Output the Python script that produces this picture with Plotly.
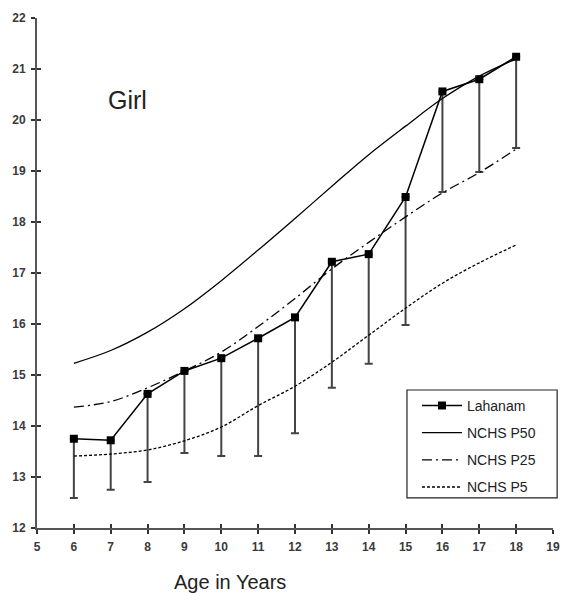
import plotly.graph_objects as go

ages = [6, 7, 8, 9, 10, 11, 12, 13, 14, 15, 16, 17, 18]
lahanam = [13.75, 13.72, 14.63, 15.08, 15.33, 15.72, 16.13, 17.22, 17.37, 18.49, 20.56, 20.8, 21.24]
lahanam_low = [12.59, 12.75, 12.9, 13.47, 13.41, 13.41, 13.86, 14.75, 15.22, 15.98, 18.59, 18.98, 19.45]
p50 = [15.23, 15.48, 15.84, 16.3, 16.85, 17.45, 18.07, 18.7, 19.32, 19.88, 20.42, 20.86, 21.2]
p25 = [14.37, 14.48, 14.75, 15.08, 15.45, 15.95, 16.5, 17.08, 17.6, 18.1, 18.57, 18.97, 19.43]
p5 = [13.41, 13.45, 13.53, 13.71, 13.98, 14.4, 14.78, 15.25, 15.78, 16.31, 16.8, 17.2, 17.55]
x_ticks = list(range(5, 20))
y_ticks = list(range(12, 23))

err_minus = [v - lo for v, lo in zip(lahanam, lahanam_low)]
err_plus = [0] * len(lahanam)

FONT = "Liberation Sans, Arial, sans-serif"

fig = go.Figure()
fig.add_trace(go.Scatter(
    x=ages, y=lahanam, name="Lahanam", mode="lines+markers",
    line=dict(color="black", width=1.5),
    marker=dict(symbol="square", size=8, color="black"),
    error_y=dict(type="data", symmetric=False, array=err_plus, arrayminus=err_minus,
                 color="#444", thickness=2, width=4),
    legendgroup="a",
))
fig.add_trace(go.Scatter(
    x=ages, y=p50, name="NCHS P50", mode="lines", line_shape="spline",
    line=dict(color="black", width=1.3), legendgroup="b",
))
fig.add_trace(go.Scatter(
    x=ages, y=p25, name="NCHS P25", mode="lines", line_shape="spline",
    line=dict(color="black", width=1.3, dash="10px,4px,2px,4px"), legendgroup="c",
))
fig.add_trace(go.Scatter(
    x=ages, y=p5, name="NCHS P5", mode="lines", line_shape="spline",
    line=dict(color="black", width=1.3, dash="3px,2px"), legendgroup="d",
))
# invisible trace to carry the inner tick axes
fig.add_trace(go.Scatter(x=[5], y=[12], xaxis="x2", yaxis="y2", mode="markers",
                         marker=dict(opacity=0), showlegend=False, hoverinfo="skip"))

axis_common = dict(showgrid=False, zeroline=False, showline=True, linecolor="#555",
                   linewidth=2, ticks="outside", ticklen=4, tickwidth=1.5, tickcolor="#333",
                   automargin=False,
                   tickfont=dict(family=FONT, size=12, color="#3a3a3a", weight="bold"))
inner_common = dict(showticklabels=False, ticks="inside", ticklen=4, tickwidth=1.5,
                    tickcolor="#333", showgrid=False, zeroline=False, showline=False,
                    automargin=False)
fig.update_layout(
    width=561, height=593,
    margin=dict(l=37, r=8, t=18, b=65, autoexpand=False),
    plot_bgcolor="white", paper_bgcolor="white",
    font=dict(family=FONT, color="#222"),
    xaxis=dict(range=[5, 19], tickvals=x_ticks, ticklabelstandoff=3, **axis_common),
    yaxis=dict(range=[12, 22], tickvals=y_ticks, ticklabelstandoff=3, **axis_common),
    xaxis2=dict(range=[5, 19], tickvals=x_ticks, overlaying="x", **inner_common),
    yaxis2=dict(range=[12, 22], tickvals=y_ticks, overlaying="y", **inner_common),
    showlegend=True,
    legend=dict(x=0.717, y=0.271, xanchor="left", yanchor="top",
                borderwidth=0, bgcolor="rgba(0,0,0,0)",
                font=dict(family=FONT, size=14, color="#222"),
                traceorder="grouped", tracegroupgap=6, itemwidth=40, indentation=10),
    shapes=[
        # legend frame
        dict(type="rect", xref="paper", yref="paper", x0=0.717, x1=1.008,
             y0=0.059, y1=0.2706, line=dict(color="#222", width=1.2), layer="above"),
    ],
    annotations=[
        dict(text="Girl", x=0.134, y=0.839, xref="paper", yref="paper",
             xanchor="left", yanchor="middle", showarrow=False,
             font=dict(family=FONT, size=25, color="#222")),
        dict(text="Age in Years", x=0.262, y=-0.106, xref="paper", yref="paper",
             xanchor="left", yanchor="middle", showarrow=False,
             font=dict(family=FONT, size=20, color="#222")),
    ],
)
fig.write_html("out.html", config={"displayModeBar": False},
               post_script="document.body.style.margin='0';")
